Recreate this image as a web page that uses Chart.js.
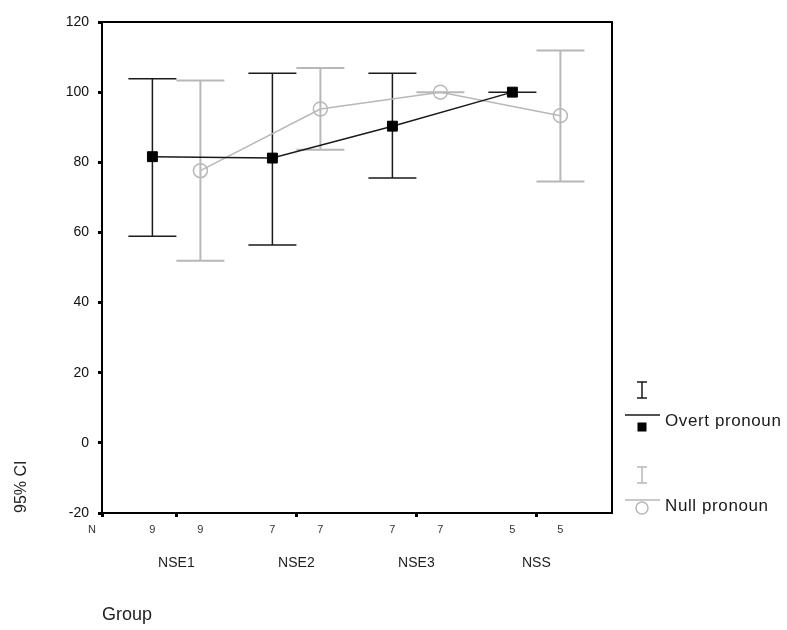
<!DOCTYPE html>
<html>
<head>
<meta charset="utf-8">
<script src="https://cdn.jsdelivr.net/npm/chart.js@4.4.1/dist/chart.umd.min.js"></script>
<style>
html,body{margin:0;padding:0;background:#fff;}
#wrap{width:787px;height:630px;position:relative;}
</style>
</head>
<body>
<div id="wrap"><canvas id="c" width="787" height="630"></canvas></div>
<script>
const categories = ['NSE1', 'NSE2', 'NSE3', 'NSS'];
const seriesNames = ['Overt pronoun', 'Null pronoun'];
const nOvert = ['9', '7', '7', '5'];
const nNull = ['9', '7', '7', '5'];
const overtMean  = [81.6, 81.2, 90.3, 100.0];
const overtLower = [58.9, 56.4, 75.5, 100.0];
const overtUpper = [103.8, 105.4, 105.4, 100.0];
const nullMean   = [77.6, 95.2, 100.0, 93.3];
const nullLower  = [51.9, 83.6, 100.0, 74.5];
const nullUpper  = [103.3, 106.9, 100.0, 111.9];
const yTicks = [-20, 0, 20, 40, 60, 80, 100, 120];

const X_MIN = -0.62, X_MAX = 3.63, OFF = 0.2;
const FONT = "'Liberation Sans', Arial, sans-serif";

const series = [
  {name: seriesNames[0], mean: overtMean, lower: overtLower, upper: overtUpper, off: -OFF, color: '#1a1a1a', width: 1.5},
  {name: seriesNames[1], mean: nullMean, lower: nullLower, upper: nullUpper, off: OFF, color: '#b8b8b8', width: 2}
];

// N-axis ticks: left label, category tick mark, right label
const nTicks = [{value: X_MIN, label: '', mark: true}];
categories.forEach((c, i) => {
  nTicks.push({value: i - OFF, label: nOvert[i], mark: false});
  nTicks.push({value: i, label: '', mark: true});
  nTicks.push({value: i + OFF, label: nNull[i], mark: false});
});

const extras = {
  id: 'extras',
  beforeDatasetsDraw(chart) {
    const {ctx, scales: {x, y}} = chart;
    const half = 24;
    series.slice().reverse().forEach(s => {
      ctx.save();
      ctx.strokeStyle = s.color;
      ctx.lineWidth = s.width;
      s.lower.forEach((lo, i) => {
        const px = x.getPixelForValue(i + s.off);
        const pl = y.getPixelForValue(lo);
        const pu = y.getPixelForValue(s.upper[i]);
        ctx.beginPath();
        ctx.moveTo(px, pl); ctx.lineTo(px, pu);
        ctx.moveTo(px - half, pl); ctx.lineTo(px + half, pl);
        ctx.moveTo(px - half, pu); ctx.lineTo(px + half, pu);
        ctx.stroke();
      });
      ctx.restore();
    });
  },
  afterDraw(chart) {
    const {ctx, chartArea: a} = chart;
    ctx.save();
    ctx.strokeStyle = '#000';
    ctx.lineWidth = 2;
    ctx.strokeRect(a.left, a.top, a.right - a.left, a.bottom - a.top);
    // "N" label
    ctx.fillStyle = '#333';
    ctx.font = '11px ' + FONT;
    ctx.textAlign = 'center';
    ctx.textBaseline = 'middle';
    ctx.fillText('N', a.left - 10, a.bottom + 17);
    // legend
    const lx = a.right + 30;
    const items = [
      {s: series[0], top: a.bottom - 131, marker: 'rect'},
      {s: series[1], top: a.bottom - 46, marker: 'circle'}
    ];
    items.forEach(it => {
      const t = it.top;
      ctx.strokeStyle = it.s.color;
      ctx.lineWidth = 1.5;
      ctx.beginPath();
      ctx.moveTo(lx, t); ctx.lineTo(lx, t + 16);
      ctx.moveTo(lx - 5, t); ctx.lineTo(lx + 5, t);
      ctx.moveTo(lx - 5, t + 16); ctx.lineTo(lx + 5, t + 16);
      ctx.moveTo(lx - 17, t + 33); ctx.lineTo(lx + 18, t + 33);
      ctx.stroke();
      if (it.marker === 'rect') {
        ctx.fillStyle = '#000';
        ctx.fillRect(lx - 4.5, t + 40.5, 9, 9);
      } else {
        ctx.beginPath();
        ctx.arc(lx, t + 41, 6, 0, Math.PI * 2);
        ctx.stroke();
      }
      ctx.fillStyle = '#1a1a1a';
      ctx.font = '17px ' + FONT;
      ctx.letterSpacing = '0.6px';
      ctx.textAlign = 'left';
      ctx.textBaseline = 'middle';
      ctx.fillText(it.s.name, lx + 23, t + 39);
      ctx.letterSpacing = '0px';
    });
    ctx.restore();
  }
};

new Chart(document.getElementById('c'), {
  type: 'line',
  data: {
    datasets: series.map(s => ({
      label: s.name,
      data: s.mean.map((v, i) => ({x: i + s.off, y: v})),
      borderColor: s.color,
      borderWidth: 1.5,
      backgroundColor: 'rgba(0,0,0,0)',
      pointStyle: s.off < 0 ? 'rect' : 'circle',
      pointRadius: 7,
      pointBorderColor: s.off < 0 ? '#000' : '#b8b8b8',
      pointBackgroundColor: s.off < 0 ? '#000' : 'rgba(0,0,0,0)',
      pointBorderWidth: s.off < 0 ? 1 : 1.5,
      tension: 0,
      xAxisID: 'x',
      yAxisID: 'y'
    }))
  },
  options: {
    responsive: false,
    animation: false,
    layout: {padding: {left: 0, top: 22, right: 175, bottom: 0}},
    plugins: {legend: {display: false}, tooltip: {enabled: false}},
    scales: {
      y: {
        type: 'linear',
        min: -20, max: 120,
        afterBuildTicks: sc => { sc.ticks = yTicks.map(v => ({value: v})); },
        afterFit: sc => { sc.width = 102; },
        border: {display: false},
        grid: {drawOnChartArea: false, drawTicks: true, tickLength: 4, tickWidth: 3, tickColor: '#000'},
        ticks: {color: '#111', font: {family: FONT, size: 14}, padding: 9},
        title: {display: true, text: '95% CI', align: 'start', color: '#222', font: {family: FONT, size: 16}, padding: {top: 12, bottom: 0}}
      },
      x: {
        type: 'linear',
        position: 'bottom',
        weight: 0,
        min: X_MIN, max: X_MAX,
        afterBuildTicks: sc => { sc.ticks = nTicks.map(t => ({value: t.value})); },
        afterFit: sc => { sc.height = 30; },
        border: {display: false},
        grid: {
          drawOnChartArea: false, drawTicks: true, tickLength: 4, tickWidth: 3,
          tickColor: ctx => (nTicks[ctx.index] && nTicks[ctx.index].mark) ? '#000' : 'rgba(0,0,0,0)'
        },
        ticks: {
          autoSkip: false, maxRotation: 0, color: '#333', padding: 6,
          font: {family: FONT, size: 11},
          callback: (v, i) => nTicks[i] ? nTicks[i].label : ''
        }
      },
      xc: {
        type: 'linear',
        position: 'bottom',
        weight: 1,
        min: X_MIN, max: X_MAX,
        afterBuildTicks: sc => { sc.ticks = categories.map((c, i) => ({value: i})); },
        afterFit: sc => { sc.height = 87; },
        border: {display: false},
        grid: {display: false, drawTicks: false},
        ticks: {
          autoSkip: false, maxRotation: 0, color: '#222', padding: 12,
          font: {family: FONT, size: 14},
          callback: (v, i) => categories[i]
        },
        title: {display: true, text: 'Group', align: 'start', color: '#222', font: {family: FONT, size: 18}, padding: {top: 0, bottom: 4}}
      }
    }
  },
  plugins: [extras]
});
</script>
</body>
</html>
